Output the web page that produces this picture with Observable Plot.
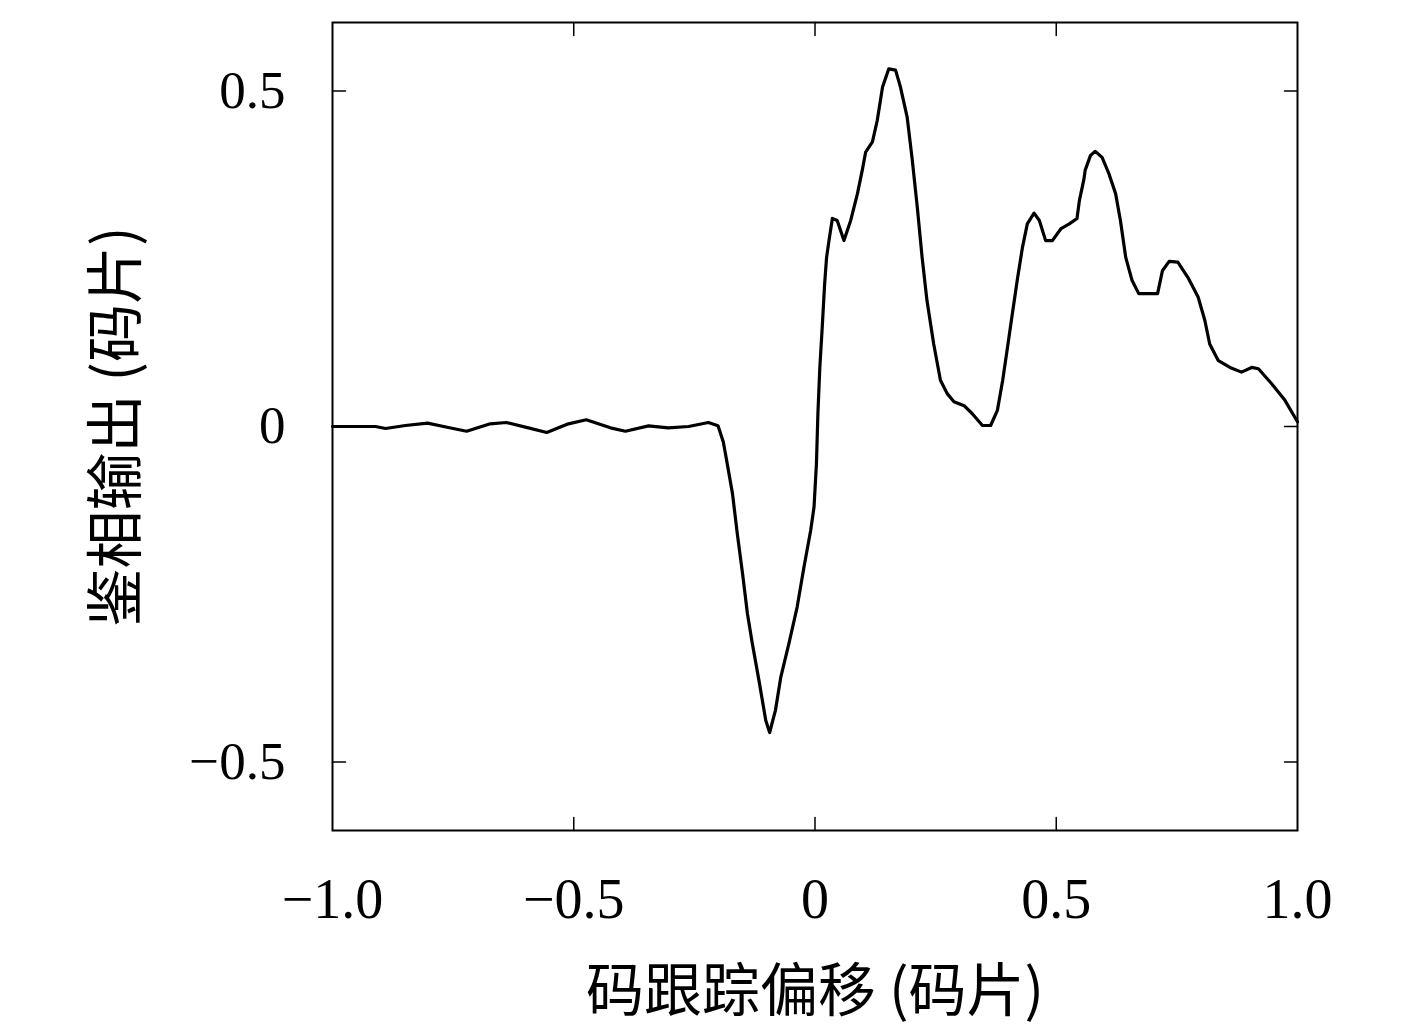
<!DOCTYPE html>
<html>
<head>
<meta charset="utf-8">
<script src="https://cdn.jsdelivr.net/npm/d3@7"></script>
<script src="https://cdn.jsdelivr.net/npm/@observablehq/plot@0.6"></script>
<style>
  html, body { margin: 0; padding: 0; background: white; }
</style>
</head>
<body>
<div id="chart"></div>
<script>
const offsets = [-1.0, -0.911, -0.89, -0.849, -0.803, -0.760, -0.722, -0.673, -0.640, -0.594, -0.556, -0.511, -0.474, -0.424, -0.393, -0.345, -0.304, -0.262, -0.221, -0.201, -0.190, -0.183, -0.171, -0.161, -0.150, -0.140, -0.130, -0.116, -0.102, -0.094, -0.082, -0.071, -0.054, -0.037, -0.023, -0.009, -0.002, 0.003, 0.006, 0.010, 0.015, 0.020, 0.024, 0.029, 0.036, 0.046, 0.060, 0.074, 0.088, 0.098, 0.105, 0.119, 0.129, 0.140, 0.153, 0.167, 0.177, 0.191, 0.201, 0.212, 0.222, 0.232, 0.246, 0.260, 0.274, 0.288, 0.309, 0.326, 0.347, 0.364, 0.378, 0.389, 0.399, 0.409, 0.420, 0.430, 0.440, 0.454, 0.465, 0.478, 0.492, 0.510, 0.527, 0.543, 0.548, 0.557, 0.560, 0.571, 0.581, 0.595, 0.609, 0.623, 0.633, 0.644, 0.657, 0.671, 0.710, 0.720, 0.734, 0.752, 0.773, 0.794, 0.808, 0.818, 0.836, 0.860, 0.884, 0.905, 0.919, 0.946, 0.974, 1.0];
const outputs = [0, 0, -0.003, 0.0015, 0.005, -0.0015, -0.007, 0.004, 0.006, -0.002, -0.009, 0.004, 0.010, -0.002, -0.007, 0.001, -0.002, 0, 0.006, 0.001, -0.023, -0.051, -0.10, -0.16, -0.22, -0.279, -0.323, -0.379, -0.438, -0.456, -0.423, -0.374, -0.323, -0.269, -0.21, -0.155, -0.12, -0.055, 0.019, 0.088, 0.148, 0.213, 0.252, 0.277, 0.31, 0.307, 0.277, 0.307, 0.347, 0.382, 0.409, 0.424, 0.456, 0.506, 0.533, 0.531, 0.506, 0.461, 0.401, 0.327, 0.252, 0.188, 0.123, 0.069, 0.049, 0.037, 0.031, 0.019, 0.0015, 0.0015, 0.024, 0.069, 0.118, 0.168, 0.222, 0.267, 0.302, 0.318, 0.307, 0.277, 0.277, 0.295, 0.302, 0.31, 0.337, 0.367, 0.382, 0.404, 0.41, 0.401, 0.377, 0.347, 0.307, 0.252, 0.218, 0.198, 0.198, 0.232, 0.246, 0.245, 0.222, 0.193, 0.158, 0.123, 0.098, 0.088, 0.081, 0.088, 0.086, 0.064, 0.039, 0.007];

const xTicks = [-1.0, -0.5, 0, 0.5, 1.0];
const xTickLabels = ["−1.0", "−0.5", "0", "0.5", "1.0"];
const xInnerTicks = [-0.5, 0, 0.5];
const yTicks = [-0.5, 0, 0.5];
const yTickLabels = ["−0.5", "0", "0.5"];
const xLabel = "码跟踪偏移 (码片)";
const yLabel = "鉴相输出 (码片)";

const data = offsets.map((x, i) => ({x, y: outputs[i]}));
const tickShape = {draw(context, l) { context.moveTo(0, 0); context.lineTo(0, -l); }};
const tickLen = 13;

const chart = Plot.plot({
  width: 1417,
  height: 1030,
  marginTop: 22,
  marginBottom: 200,
  marginLeft: 332,
  marginRight: 120,
  style: {fontFamily: "'Liberation Serif', serif", background: "white", color: "black"},
  x: {domain: [-1, 1]},
  y: {domain: [-0.602, 0.602]},
  marks: [
    Plot.axisX(xTicks, {tickSize: 0, tickPadding: 48, fontSize: 56, tickFormat: (d) => xTickLabels[xTicks.indexOf(d)], label: null}),
    Plot.axisY(yTicks, {tickSize: 0, tickPadding: 47, fontSize: 53, tickFormat: (d) => yTickLabels[yTicks.indexOf(d)], label: null}),
    Plot.vector(xInnerTicks, {x: d => d, frameAnchor: "bottom", anchor: "start", rotate: 0, length: tickLen, shape: tickShape, stroke: "black", strokeWidth: 1.5}),
    Plot.vector(xInnerTicks, {x: d => d, frameAnchor: "top", anchor: "start", rotate: 180, length: tickLen, shape: tickShape, stroke: "black", strokeWidth: 1.5}),
    Plot.vector(yTicks, {y: d => d, frameAnchor: "left", anchor: "start", rotate: 90, length: tickLen, shape: tickShape, stroke: "black", strokeWidth: 1.5}),
    Plot.vector(yTicks, {y: d => d, frameAnchor: "right", anchor: "start", rotate: -90, length: tickLen, shape: tickShape, stroke: "black", strokeWidth: 1.5}),
    Plot.line(data, {x: "x", y: "y", stroke: "black", strokeWidth: 3.2, strokeLinejoin: "round"}),
    Plot.frame({stroke: "black", strokeWidth: 2}),
    Plot.text([xLabel], {text: d => d, frameAnchor: "bottom", dy: 162, textAnchor: "middle", lineAnchor: "middle", fontSize: 58, fontFamily: "'Noto Sans CJK SC', sans-serif", fill: "black"}),
    Plot.text([yLabel], {text: d => d, frameAnchor: "left", dx: -215, rotate: -90, textAnchor: "middle", lineAnchor: "middle", fontSize: 58, fontFamily: "'Noto Sans CJK SC', sans-serif", fill: "black"})
  ]
});
document.getElementById("chart").appendChild(chart);
</script>
</body>
</html>
